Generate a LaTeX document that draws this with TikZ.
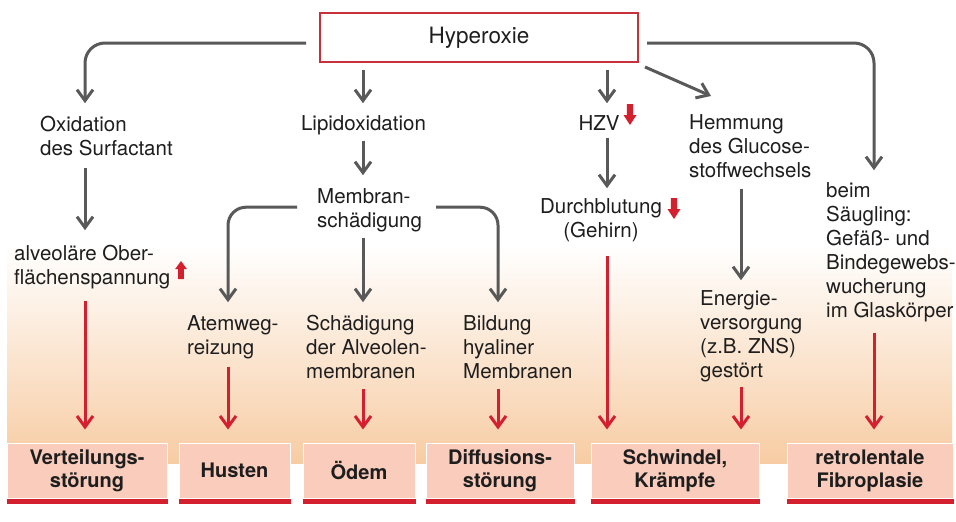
\documentclass[tikz,border=0pt]{standalone}
\usepackage{fontspec}
\setmainfont{TeX Gyre Heros}
\usetikzlibrary{arrows.meta,calc}
\definecolor{grayc}{HTML}{595959}
\definecolor{redc}{HTML}{D41F2E}
\definecolor{peach}{HTML}{F7CCA3}
\definecolor{peachmid}{HTML}{FCE8D7}
\definecolor{boxc}{HTML}{F9CCBC}
\definecolor{txtc}{HTML}{1E1E1E}
\definecolor{hypred}{HTML}{C8303A}
\newcommand\RedDownArrow[3]{\fill[redc] ({#1-3.2},#2) -- ({#1+3.2},#2) -- ({#1+3.2},{#3-10}) -- ({#1+6.5},{#3-10}) -- (#1,#3) -- ({#1-6.5},{#3-10}) -- ({#1-3.2},{#3-10}) -- cycle;}
\newcommand\RedUpArrow[3]{\fill[redc] ({#1-2.8},#2) -- ({#1+2.8},#2) -- ({#1+2.8},{#3+8}) -- ({#1+5.8},{#3+8}) -- (#1,#3) -- ({#1-5.8},{#3+8}) -- ({#1-2.8},{#3+8}) -- cycle;}
\newcommand\LeftLines[1]{\begin{tabular}{@{}l@{}}#1\end{tabular}}
\newcommand\CenterLines[1]{\begin{tabular}{@{}c@{}}#1\end{tabular}}
\begin{document}
\begin{tikzpicture}[x=1pt,y=-1pt,
  txt/.style={font=\fontsize{20.5}{24}\selectfont, text=txtc, inner sep=0pt, anchor=north west},
  ctxt/.style={txt, anchor=north},
  outbox/.style={draw=white, line width=1pt, fill=boxc, minimum width=#1, minimum height=55pt, inner sep=0pt,
    align=center, font=\bfseries\fontsize{20}{23}\selectfont, text=txtc},
  garr/.style={draw=grayc, line width=3pt, -{Straight Barb[length=11pt,width=16pt]}},
  rarr/.style={draw=redc, line width=3pt, -{Straight Barb[length=11pt,width=16pt]}},
  bar/.style={fill=redc}
]
\useasboundingbox[fill=white] (0,0) rectangle (956,522);
% background gradient
\shade[top color=white, middle color=peachmid, bottom color=peach] (7,245) rectangle (952,463);

% column coordinates
\coordinate (c1) at (85,0);
\coordinate (c2) at (228,0);
\coordinate (c3) at (363,0);
\coordinate (c4) at (498,0);
\coordinate (c5) at (607,0);
\coordinate (c6) at (741,0);
\coordinate (c7) at (874,0);

% top node
\node[draw=hypred, line width=2pt, minimum width=318pt, minimum height=49pt, inner sep=0pt,
      font=\fontsize{22.5}{27}\selectfont, text=txtc] (hyp) at (479,37.5) {Hyperoxie};

% text nodes (north = first baseline - 16.8)
\node[txt] (ox) at (40,114.2) {\LeftLines{Oxidation\\des Surfactant}};
\node[ctxt] (lip) at (363.5,113.2) {\CenterLines{Lipidoxidation}};
\node[txt] (mem) at (317,186.2) {\LeftLines{Membran-\\schädigung}};
\node[ctxt] (hzv) at (599,113.2) {\CenterLines{HZV}};
\node[ctxt] (dur) at (601,196.2) {\CenterLines{Durchblutung\\(Gehirn)}};
\node[txt] (hem) at (689,112.2) {\LeftLines{Hemmung\\des Glucose-\\stoffwechsels}};
\node[txt] (beim) at (826,180.2) {\LeftLines{beim\\Säugling:\\Gefäß- und\\Bindegewebs-\\wucherung\\im Glaskörper}};
\node[txt] (alv) at (14,243.2) {\LeftLines{alveoläre Ober-\\flächenspannung}};
\node[txt] (atem) at (187,313.2) {\LeftLines{Atemweg-\\reizung}};
\node[txt] (schad) at (306,313.2) {\LeftLines{Schädigung\\der Alveolen-\\membranen}};
\node[txt] (bild) at (463,313.2) {\LeftLines{Bildung\\hyaliner\\Membranen}};
\node[txt] (energ) at (700,288.2) {\LeftLines{Energie-\\versorgung\\(z.B. ZNS)\\gestört}};

% outcome boxes
\node[outbox=160pt] (v) at (87,470.5) {Verteilungs-\\störung};
\node[outbox=111pt] (hu) at (234.5,470.5) {Husten};
\node[outbox=112pt] (od) at (359,470.5) {Ödem};
\node[outbox=148pt] (di) at (500,470.5) {Diffusions-\\störung};
\node[outbox=168pt] (sk) at (675,470.5) {Schwindel,\\Krämpfe};
\node[outbox=166pt] (rf) at (870,470.5) {retrolentale\\Fibroplasie};
\foreach \b in {v,hu,od,di,sk,rf}{
  \fill[bar] (\b.south west) rectangle ([yshift=-5pt]\b.south east);
}

% gray connectors
\draw[garr, rounded corners=20pt, shorten <=13pt, shorten >=11pt] ([yshift=-5.5pt]hyp.west) -| (c1 |- ox.north);
\draw[garr, shorten <=7pt, shorten >=10pt] (c3 |- hyp.south) -- (c3 |- lip.north);
\draw[garr, shorten <=7pt, shorten >=10pt] (c5 |- hyp.south) -- (c5 |- hzv.north);
\draw[garr] ([xshift=6pt,yshift=-4pt]hyp.south east) -- ([xshift=22pt,yshift=16.2pt]hem.north west);
\draw[garr, rounded corners=20pt, shorten <=8pt, shorten >=10pt] ([yshift=-5.5pt]hyp.east) -| (c7 |- beim.north);
\draw[garr, shorten <=5pt, shorten >=13pt] (c1 |- ox.south) -- (c1 |- alv.north);
\draw[garr, shorten <=3pt, shorten >=11pt] (c3 |- lip.south) -- (c3 |- mem.north);
\draw[garr, shorten <=0pt, shorten >=8pt] (c5 |- hzv.south) -- (c5 |- dur.north);
\draw[garr, rounded corners=18pt, shorten <=20pt, shorten >=11pt] ([yshift=3.2pt]mem.west) -| (c2 |- atem.north);
\draw[garr, rounded corners=18pt, shorten <=14pt, shorten >=11pt] ([yshift=3.2pt]mem.east) -| (c4 |- bild.north);
\draw[garr, shorten <=3pt, shorten >=11pt] (c3 |- mem.south) -- (c3 |- schad.north);
\draw[garr, shorten <=4pt, shorten >=8pt] (c6 |- hem.south) -- (c6 |- energ.north);

% red connectors
\draw[rarr, shorten <=9pt, shorten >=13pt] (c1 |- alv.south) -- (c1 |- v.north);
\draw[rarr, shorten <=5pt, shorten >=13pt] (c2 |- atem.south) -- (c2 |- hu.north);
\draw[rarr, shorten <=3pt, shorten >=13pt] (c3 |- schad.south) -- (c3 |- od.north);
\draw[rarr, shorten <=3pt, shorten >=13pt] (c4 |- bild.south) -- (c4 |- di.north);
\draw[rarr, shorten <=11pt, shorten >=13pt] (c5 |- dur.south) -- (c5 |- sk.north);
\draw[rarr, shorten <=2pt, shorten >=13pt] (c6 |- energ.south) -- (c6 |- sk.north);
\draw[rarr, shorten <=8pt, shorten >=13pt] (c7 |- beim.south) -- (c7 |- rf.north);

% small red indicator arrows
\RedDownArrow{630}{104}{125}
\RedDownArrow{674}{198}{219}
\RedUpArrow{181}{279}{261}
\end{tikzpicture}
\end{document}
